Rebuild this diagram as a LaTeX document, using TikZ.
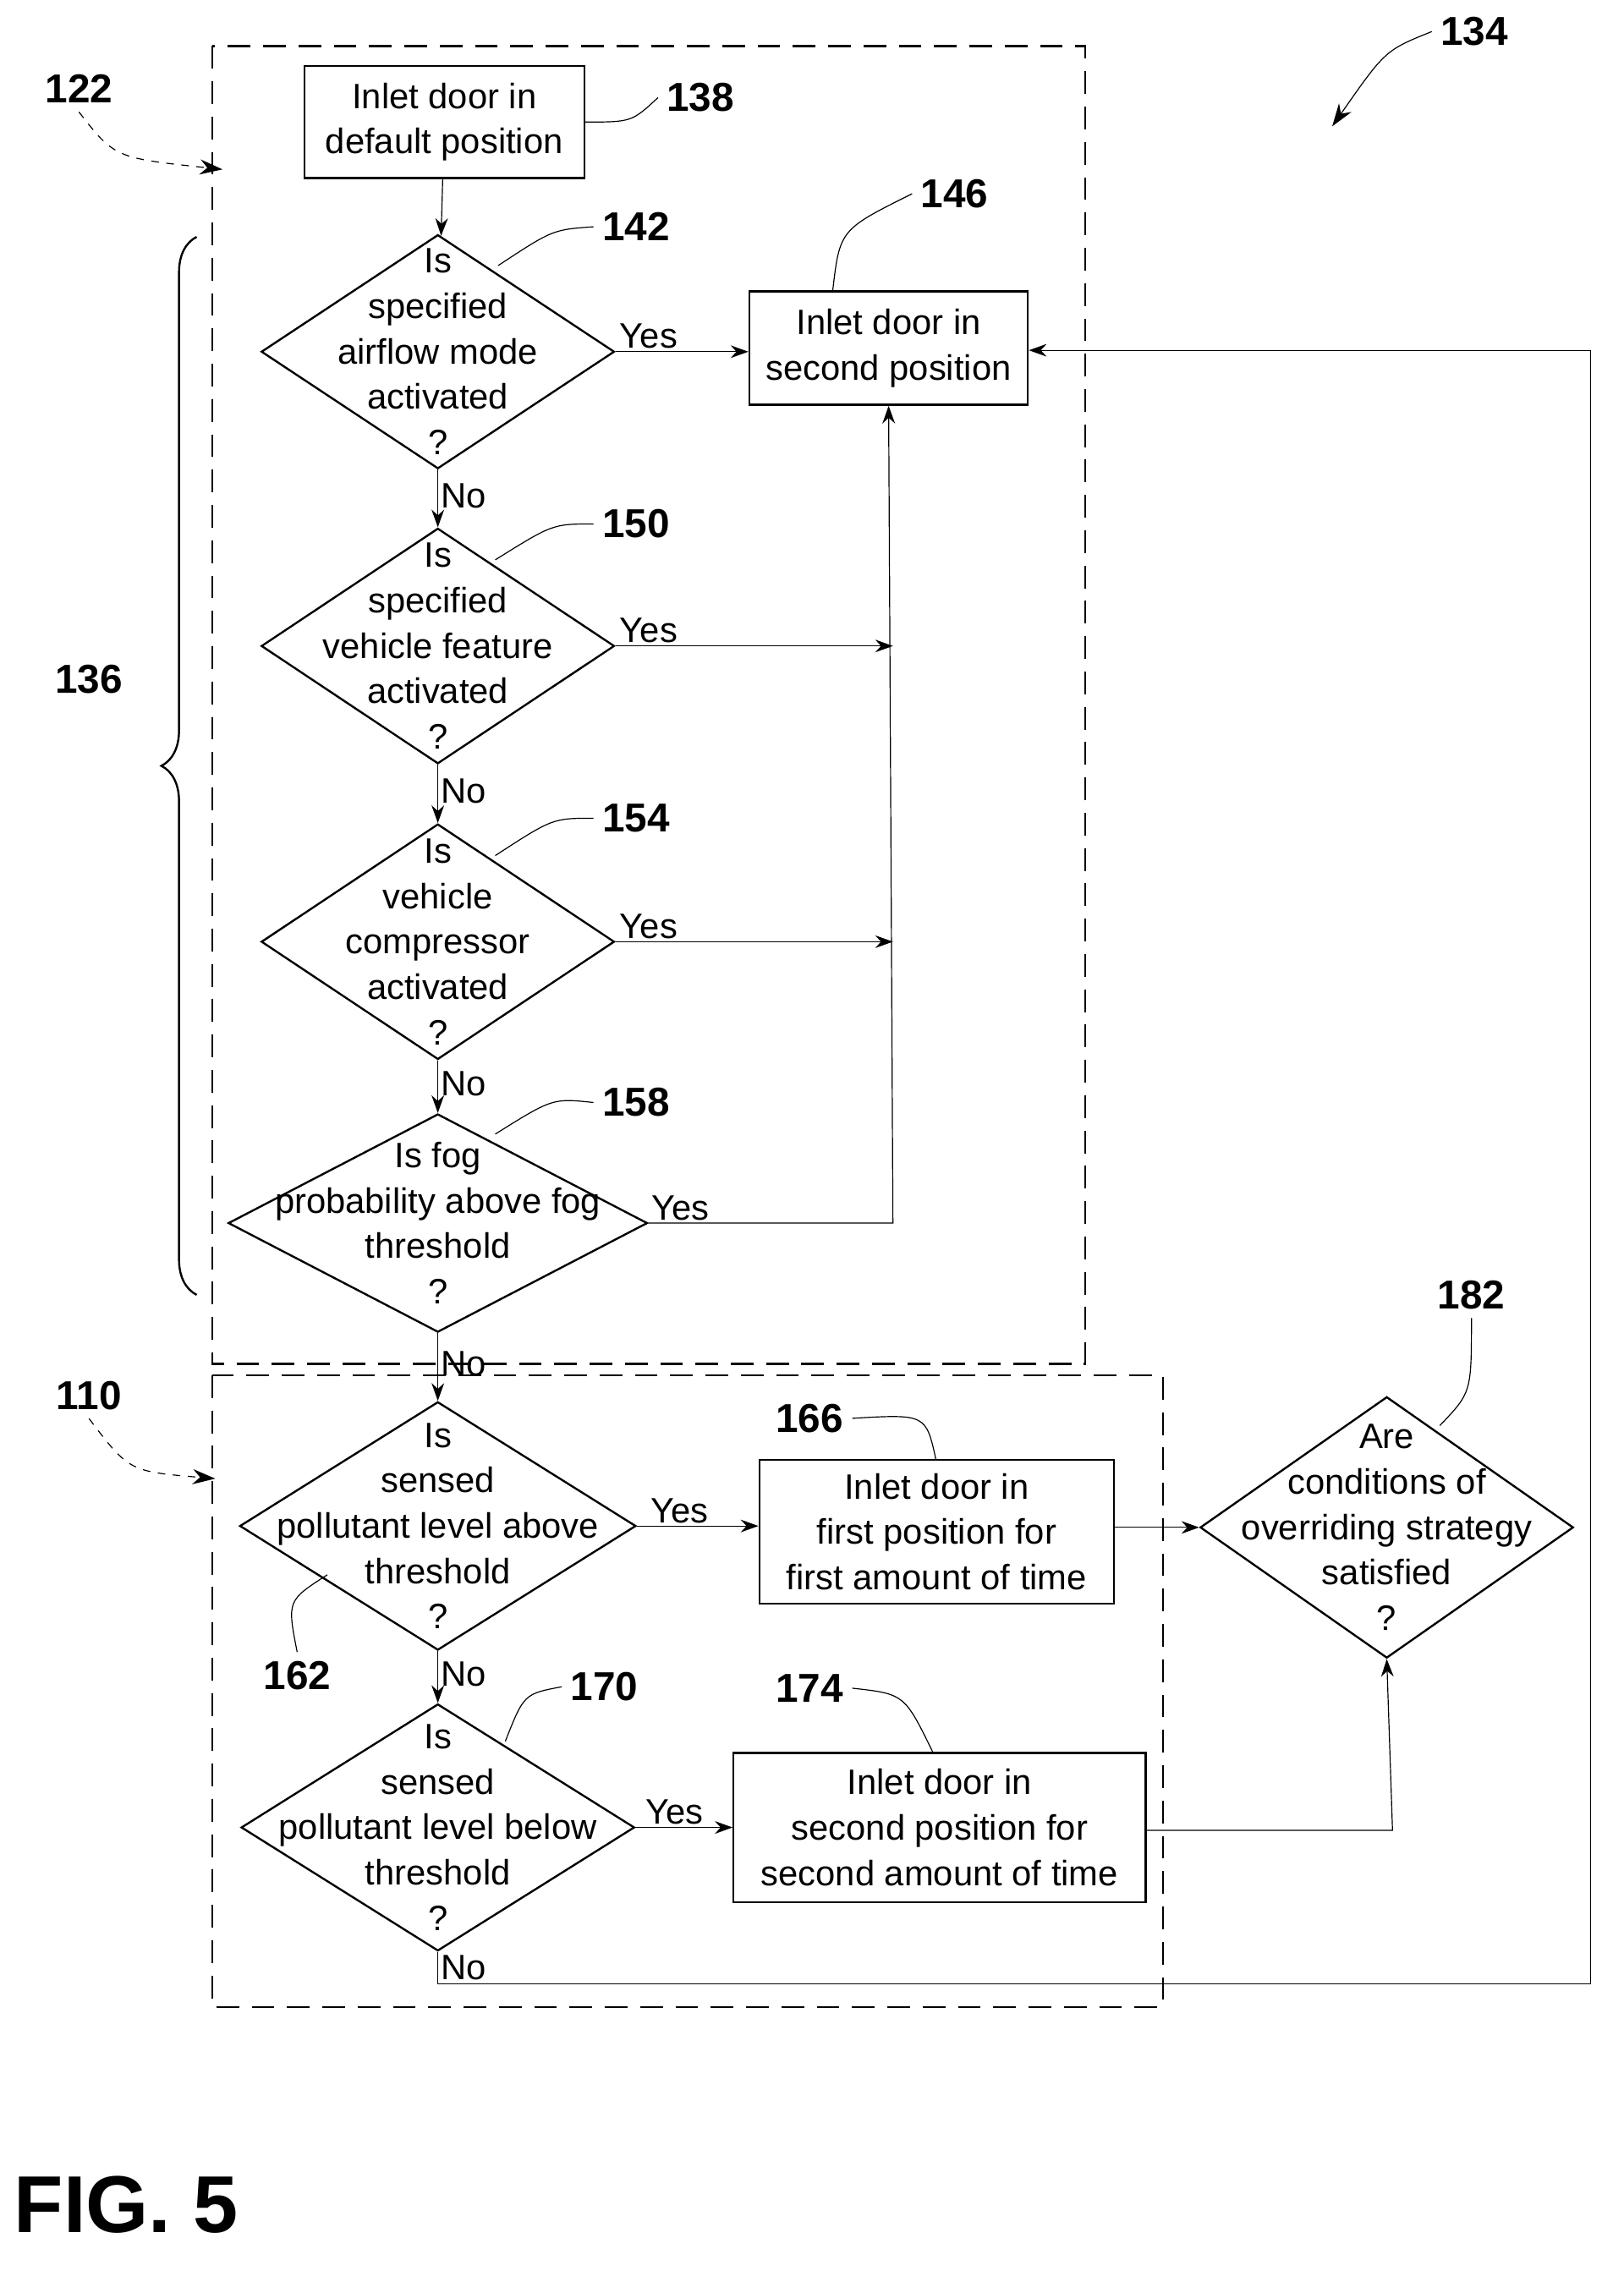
\documentclass[tikz,border=0pt]{standalone}
\usepackage{fontspec}
\setmainfont{Liberation Sans}
\usetikzlibrary{shapes.geometric,arrows.meta,decorations.pathreplacing}
\tikzset{
  box/.style={draw, thick, align=center, inner sep=0pt, font=\fontsize{14}{18}\selectfont},
  dec/.style={draw, thick, diamond, inner sep=0pt},
  dtext/.style={align=center, font=\fontsize{14}{18}\selectfont},
  num/.style={font=\bfseries\fontsize{16}{18}\selectfont},
  lead/.style={thin},
  flow/.style={thin, -{Stealth[length=7pt,width=5pt]}},
  frame/.style={thick, dashed, dash pattern=on 9pt off 5pt},
  lbl/.style={font=\fontsize{14}{16}\selectfont, inner sep=1pt}
}
\begin{document}
\begin{tikzpicture}[x=0.02cm,y=-0.02cm]
    \useasboundingbox (0,0) rectangle (1131,1582);
    % dashed frames
    \draw[frame] (148,32) rectangle (756,950);
    \draw[frame] (148,958) rectangle (810,1398);

    % boxes
    \node[box, minimum width=195*0.02cm, minimum height=78*0.02cm] (door) at (309.5,85) {Inlet door in\\default position};
    \node[box, minimum width=194*0.02cm, minimum height=79*0.02cm] (second) at (619,242.5) {Inlet door in\\second position};
    \node[box, minimum width=247*0.02cm, minimum height=100*0.02cm] (firsttime) at (652.5,1067) {Inlet door in\\first position for\\first amount of time};
    \node[box, minimum width=287*0.02cm, minimum height=104*0.02cm] (secondtime) at (654.5,1273) {Inlet door in\\second position for\\second amount of time};

    % decisions
    \node[dec, minimum width=246*0.02cm, minimum height=163*0.02cm,
      label={[dtext]center:Is\\specified\\airflow mode\\activated\\?}] (airflow) at (305,245) {};
    \node[dec, minimum width=246*0.02cm, minimum height=164*0.02cm,
      label={[dtext]center:Is\\specified\\vehicle feature\\activated\\?}] (feature) at (305,450) {};
    \node[dec, minimum width=246*0.02cm, minimum height=164*0.02cm,
      label={[dtext]center:Is\\vehicle\\compressor\\activated\\?}] (compr) at (305,656) {};
    \node[dec, minimum width=292*0.02cm, minimum height=152*0.02cm,
      label={[dtext]center:Is fog\\probability above fog\\threshold\\?}] (fog) at (305,852) {};
    \node[dec, minimum width=276*0.02cm, minimum height=173*0.02cm,
      label={[dtext]center:Is\\sensed\\pollutant level above\\threshold\\?}] (above) at (305,1063) {};
    \node[dec, minimum width=274*0.02cm, minimum height=172*0.02cm,
      label={[dtext]center:Is\\sensed\\pollutant level below\\threshold\\?}] (below) at (305,1273) {};
    \node[dec, minimum width=260*0.02cm, minimum height=182*0.02cm,
      label={[dtext]center:Are\\conditions of\\overriding strategy\\satisfied\\?}] (override) at (966,1064) {};

    % merge points
    \coordinate (m1) at (622,450);
    \coordinate (m2) at (622,656);
    \coordinate (m3) at (622,852);
    \coordinate (up) at (970,1275);
    \coordinate (lp1) at (305,1382);
    \coordinate (lp2) at (1108,1382);
    \coordinate (lp3) at (1108,244);

    % flow
    \draw[flow] (door) -- (airflow);
    \draw[flow] (airflow) -- node[lbl, pos=0.45, right]{No} (feature);
    \draw[flow] (feature) -- node[lbl, pos=0.45, right]{No} (compr);
    \draw[flow] (compr) -- node[lbl, pos=0.45, right]{No} (fog);
    \draw[flow] (fog) -- node[lbl, pos=0.45, right]{No} (above);
    \draw[flow] (above) -- node[lbl, pos=0.45, right]{No} (below);
    \draw[flow] (airflow.east) -- node[lbl, pos=0.25, above]{Yes} (second.west |- airflow.east);
    \draw[flow] (feature.east) -- node[lbl, pos=0.12, above]{Yes} (m1);
    \draw[flow] (compr.east) -- node[lbl, pos=0.12, above]{Yes} (m2);
    \draw[flow] (fog.east) node[lbl, above right]{Yes} -- (m3) -- (second.south);
    \draw[flow] (above.east) -- node[lbl, pos=0.35, above]{Yes} (firsttime.west |- above.east);
    \draw[flow] (firsttime.east |- override.west) -- (override.west);
    \draw[flow] (below.east) -- node[lbl, pos=0.4, above]{Yes} (secondtime.west |- below.east);
    \draw[flow] (secondtime.east |- up) -- (up) -- (override.south);
    \draw[flow] (below.south) node[lbl, below right]{No} -- (lp1) -- (lp2) -- (lp3) -- (second.east |- lp3);

    % brace 136
    \draw[thick, decorate, decoration={brace, amplitude=14pt}] (137,902) -- (137,165);
    \node[num] (n136) at (62,473) {136};

    % reference numerals
    \node[num] (n134) at (1027,22) {134};
    \draw[-{Stealth[length=9pt,width=6pt]}] (n134.west) .. controls (965,35) .. (928,88);
    \node[num] (n122) at (55,62) {122};
    \draw[dashed, -{Stealth[length=9pt,width=6pt]}] (n122.south) .. controls (80,110) .. (155,118);
    \node[num] (n110) at (62,972) {110};
    \draw[dashed, -{Stealth[length=9pt,width=6pt]}] (n110.south) .. controls (90,1025) .. (150,1030);

    \node[num] (n138) at (488,68) {138};
    \draw[lead] (door.east |- 0,85) .. controls (440,85) .. (n138.west);
    \node[num] (n142) at (443,158) {142};
    \draw[lead] (347,185) .. controls (385,160) .. (n142.west);
    \node[num] (n146) at (665,135) {146};
    \draw[lead] (580,203) .. controls (585,160) .. (n146.west);
    \node[num] (n150) at (443,365) {150};
    \draw[lead] (345,390) .. controls (385,365) .. (n150.west);
    \node[num] (n154) at (443,570) {154};
    \draw[lead] (345,596) .. controls (385,570) .. (n154.west);
    \node[num] (n158) at (443,768) {158};
    \draw[lead] (345,790) .. controls (385,765) .. (n158.west);
    \node[num] (n162) at (207,1167) {162};
    \draw[lead] (n162.north) .. controls (200,1115) .. (228,1097);
    \node[num] (n166) at (564,988) {166};
    \draw[lead] (n166.east) .. controls (645,985) .. (652,1017);
    \node[num] (n170) at (421,1175) {170};
    \draw[lead] (352,1213) .. controls (365,1180) .. (n170.west);
    \node[num] (n174) at (564,1176) {174};
    \draw[lead] (n174.east) .. controls (630,1180) .. (650,1221);
    \node[num] (n182) at (1025,902) {182};
    \draw[lead] (n182.south) .. controls (1025,970) .. (1003,993);

    \node[font=\bfseries\fontsize{32}{36}\selectfont] (fig) at (88,1536) {FIG. 5};
\end{tikzpicture}
\end{document}
